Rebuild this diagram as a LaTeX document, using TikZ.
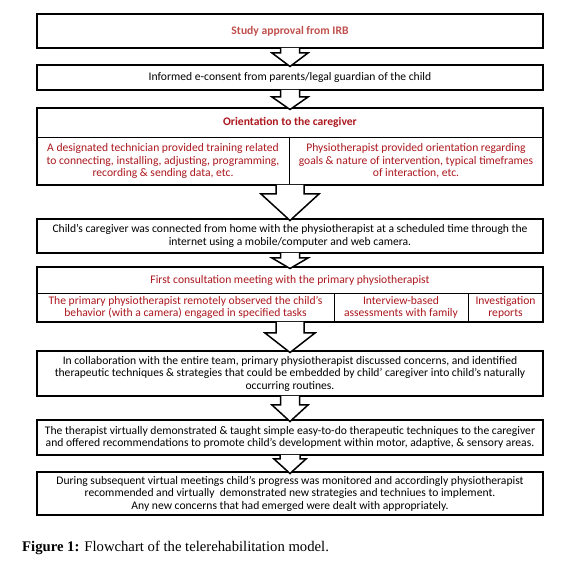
\documentclass[tikz,border=0pt]{standalone}
\usepackage{fontspec}
\setmainfont{Carlito}
\newfontfamily\capfont{Liberation Serif}
\usetikzlibrary{calc}
\definecolor{lred}{RGB}{192,80,77}
\definecolor{dred}{RGB}{172,24,30}
\newcommand\blockarr[5]{%
  \draw[barrow] ($(#1.south)+(-#3,0)$) -- ($(#1.south)+(-#3,#5)$) -- ($(#1.south)+(-#4,#5)$)
    -- ($(#2.north)+(0,1.5)$) -- ($(#1.south)+(#4,#5)$) -- ($(#1.south)+(#3,#5)$) -- ($(#1.south)+(#3,0)$);}
\begin{document}
\begin{tikzpicture}[x=1pt,y=-1pt,
  cell/.style={draw, line width=0.9pt, anchor=north west, inner sep=0pt, outer sep=0pt,
    align=center, font=\fontsize{11.6}{12.5}\selectfont},
  box/.style={cell, line width=1.7pt},
  frame/.style={draw, line width=1.5pt, anchor=north west, inner sep=0pt, outer sep=0pt},
  barrow/.style={draw, line width=1.5pt, fill=white, line join=miter}]
\useasboundingbox (0,0) rectangle (574,569);
\fill[white] (0,0) rectangle (574,569);
% boxes
\node[box, minimum width=506pt, minimum height=34pt, text=lred, font=\fontsize{11.6}{12.5}\selectfont\bfseries] (b1) at (37,14) {Study approval from IRB};
\node[box, minimum width=506pt, minimum height=25pt] (b2) at (37,65) {Informed e-consent from parents/legal guardian of the child};
% box 3
\node[frame, minimum width=506pt, minimum height=77pt] (b3) at (37,108) {};
\node[cell, minimum width=506pt, minimum height=29pt, text=dred, font=\fontsize{11.6}{12.5}\selectfont\bfseries] (b3h) at (37,108) {Orientation to the caregiver};
\node[cell, minimum width=252pt, minimum height=48pt, text=dred] (b3l) at (37,137) {A designated technician provided training related\\to connecting, installing, adjusting, programming,\\recording \& sending data, etc.};
\node[cell, minimum width=254pt, minimum height=48pt, text=dred] (b3r) at (289,137) {Physiotherapist provided orientation regarding\\goals \& nature of intervention, typical timeframes\\of interaction, etc.};
\node[frame, minimum width=506pt, minimum height=77pt] at (37,108) {};
% box 4
\node[box, minimum width=506pt, minimum height=34pt] (b4) at (37,219) {Child’s caregiver was connected from home with the physiotherapist at a scheduled time through the\\internet using a mobile/computer and web camera.};
% box 5
\node[cell, minimum width=506pt, minimum height=26pt, text=dred] (b5h) at (37,267) {First consultation meeting with the primary physiotherapist};
\node[cell, minimum width=297pt, minimum height=29pt, text=dred] (b5a) at (37,293) {The primary physiotherapist remotely observed the child’s\\behavior (with a camera) engaged in specified tasks};
\node[cell, minimum width=134pt, minimum height=29pt, text=dred] (b5b) at (334,293) {Interview-based\\assessments with family};
\node[cell, minimum width=75pt, minimum height=29pt, text=dred] (b5c) at (468,293) {Investigation\\reports};
\node[frame, minimum width=506pt, minimum height=55pt] (b5) at (37,267) {};
% box 6-8
\node[box, minimum width=506pt, minimum height=45pt] (b6) at (37,351) {In collaboration with the entire team, primary physiotherapist discussed concerns, and identified\\therapeutic techniques \& strategies that could be embedded by child’ caregiver into child’s naturally\\occurring routines.};
\node[box, minimum width=506pt, minimum height=35pt] (b7) at (37,420) {The therapist virtually demonstrated \& taught simple easy-to-do therapeutic techniques to the caregiver\\and offered recommendations to promote child’s development within motor, adaptive, \& sensory areas.};
\node[box, minimum width=506pt, minimum height=43pt] (b8) at (37,472) {During subsequent virtual meetings child’s progress was monitored and accordingly physiotherapist\\recommended and virtually\ \ demonstrated new strategies and techniues to implement.\\Any new concerns that had emerged were dealt with appropriately.};
% arrows
\blockarr{b1}{b2}{9.5}{18}{5}
\blockarr{b2}{b3}{9.5}{18}{7}
\blockarr{b3}{b4}{14}{29}{9}
\blockarr{b4}{b5h}{9.5}{18}{5}
\blockarr{b5}{b6}{14}{25}{11}
\blockarr{b6}{b7}{9.5}{18}{9}
\blockarr{b7}{b8}{10}{16}{4}
% caption
\node[anchor=base west, inner sep=0pt, font=\capfont\fontsize{14.7}{17}\selectfont] (cap) at (22,552) {\textbf{Figure 1:} Flowchart of the telerehabilitation model.};
\end{tikzpicture}
\end{document}
